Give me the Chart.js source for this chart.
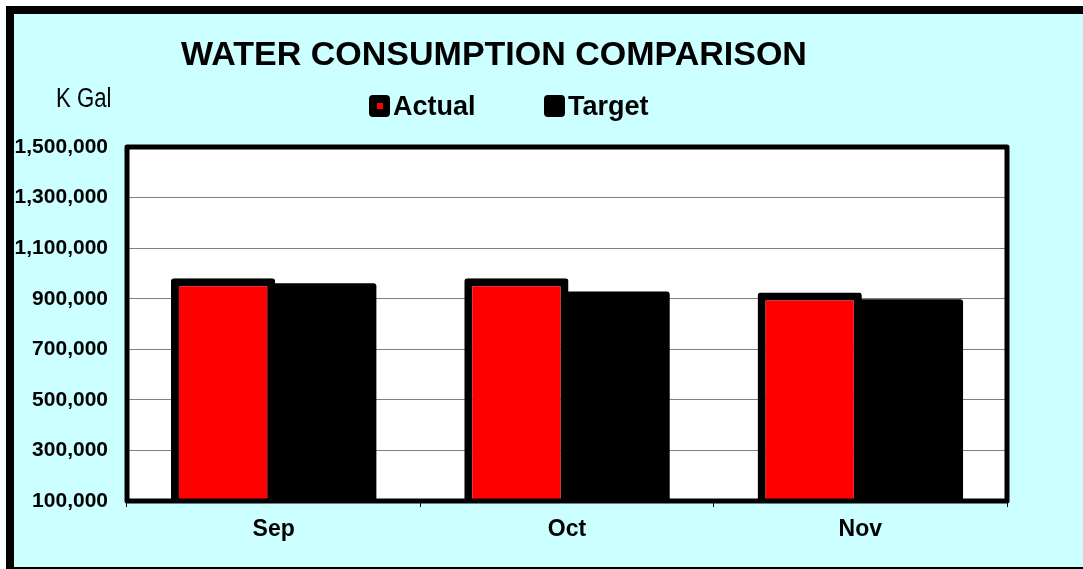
<!DOCTYPE html>
<html>
<head>
<meta charset="utf-8">
<script src="https://cdn.jsdelivr.net/npm/chart.js@4"></script>
<style>
  html, body { margin: 0; padding: 0; background: #fff; }
  #chart { display: block; }
</style>
</head>
<body>
<canvas id="chart" width="1083" height="569"></canvas>
<script>
const months = ["Sep", "Oct", "Nov"];
const actual = [981000, 981000, 925000];
const target = [961000, 929000, 898000];
const yTicks = [100000, 300000, 500000, 700000, 900000, 1100000, 1300000, 1500000];

const chartTitle = "WATER CONSUMPTION COMPARISON";
const unitLabel = "K Gal";

const FONT = "'Liberation Sans', Arial, sans-serif";

// frame, cyan background and white plot area
const framePlugin = {
  id: "frame",
  beforeDraw(chart) {
    const { ctx, chartArea: a } = chart;
    ctx.save();
    ctx.fillStyle = "#fff";
    ctx.fillRect(0, 0, chart.width, chart.height);
    ctx.fillStyle = "#CCFFFF";
    ctx.fillRect(10, 10, 1090, 561);
    ctx.strokeStyle = "#000";
    ctx.lineWidth = 8;
    ctx.strokeRect(10, 10, 1090, 561);
    ctx.fillStyle = "#fff";
    ctx.fillRect(a.left, a.top, a.right - a.left, a.bottom - a.top);
    ctx.restore();
  },
  afterDatasetsDraw(chart) {
    const { ctx, chartArea: a } = chart;
    ctx.save();
    ctx.strokeStyle = "#000";
    ctx.lineWidth = 5;
    ctx.lineJoin = "round";
    ctx.strokeRect(a.left, a.top, a.right - a.left, a.bottom - a.top);
    ctx.restore();
  },
};

// title, unit label and legend drawn at fixed spots like the original sheet
const headerPlugin = {
  id: "header",
  afterDraw(chart) {
    const ctx = chart.ctx;
    ctx.save();
    ctx.fillStyle = "#000";
    ctx.textBaseline = "alphabetic";

    ctx.font = "bold 34px " + FONT;
    ctx.textAlign = "center";
    ctx.fillText(chartTitle, 494, 65);

    // narrow font look for the unit
    ctx.font = "27px " + FONT;
    ctx.textAlign = "left";
    ctx.save();
    ctx.translate(56, 107);
    ctx.scale(0.82, 1);
    ctx.fillText(unitLabel, 0, 0);
    ctx.restore();

    const starts = [369, 544];
    ctx.font = "bold 27px " + FONT;
    chart.data.datasets.forEach((ds, i) => {
      const x = starts[i];
      ctx.fillStyle = "#000";
      ctx.beginPath();
      ctx.roundRect(x, 95, 21, 22, 4);
      ctx.fill();
      ctx.fillStyle = ds.backgroundColor;
      ctx.fillRect(x + 8, 103, 6, 6);
      ctx.fillStyle = "#000";
      ctx.fillText(ds.label, x + 24, 115);
    });
    ctx.restore();
  },
};

new Chart(document.getElementById("chart"), {
  type: "bar",
  data: {
    labels: months,
    datasets: [
      {
        label: "Actual",
        data: actual,
        backgroundColor: "#FF0000",
        borderColor: "#000",
        borderWidth: 8,
        borderRadius: 3,
      },
      {
        label: "Target",
        data: target,
        backgroundColor: "#000000",
        borderColor: "#000",
        borderWidth: 0,
        borderRadius: 3,
      },
    ],
  },
  options: {
    responsive: false,
    animation: false,
    categoryPercentage: 0.69,
    barPercentage: 1.03,
    layout: { padding: { top: 147, right: 76, bottom: 0, left: 0 } },
    plugins: {
      legend: { display: false },
      title: { display: false },
      tooltip: { enabled: false },
    },
    scales: {
      x: {
        grid: {
          drawOnChartArea: false,
          drawTicks: true,
          tickLength: 6,
          color: "#000",
          offset: true,
        },
        border: { display: false },
        ticks: {
          color: "#000",
          padding: 9,
          font: { family: FONT, size: 23, weight: "bold" },
        },
        afterFit: (scale) => { scale.height = 68; },
      },
      y: {
        min: 100000,
        max: 1500000,
        afterBuildTicks: (scale) => {
          scale.ticks = yTicks.map((v) => ({ value: v }));
        },
        grid: { color: "#808080", lineWidth: 1, drawTicks: false },
        border: { display: false },
        ticks: {
          color: "#000",
          padding: 19,
          font: { family: FONT, size: 21, weight: "bold" },
          callback: (value) => value.toLocaleString("en-US"),
        },
        afterFit: (scale) => { scale.width = 127; },
      },
    },
  },
  plugins: [framePlugin, headerPlugin],
});
</script>
</body>
</html>
